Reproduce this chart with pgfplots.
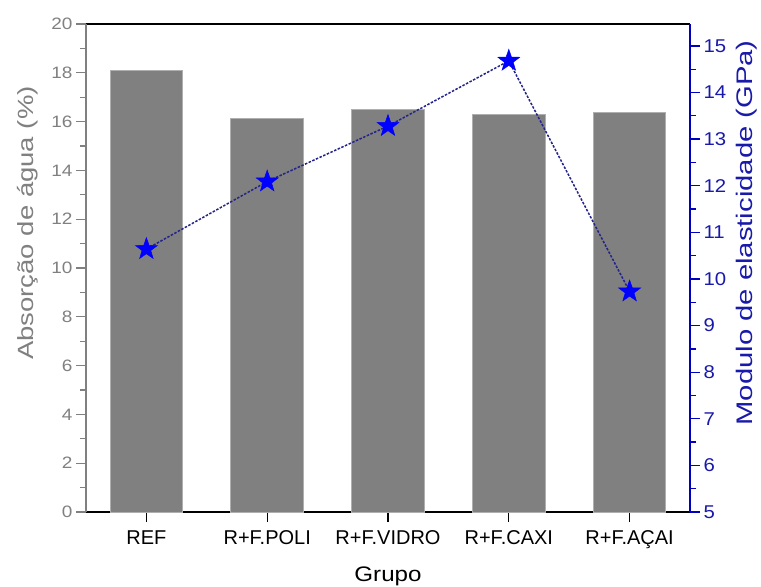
\documentclass[border=0pt]{standalone}
\usepackage{fontspec}
\setmainfont{Liberation Sans}
\newfontfamily\ylabfont[FakeStretch=1.25]{Liberation Sans}
\newfontfamily\rlabfont[FakeStretch=1.3]{Liberation Sans}
\newfontfamily\tickfont[FakeStretch=1.15]{Liberation Sans}
\newfontfamily\rtickfont[FakeStretch=1.1]{Liberation Sans}
\newfontfamily\grupofont[FakeStretch=1.15]{Liberation Sans}
\usepackage{pgfplots}
\pgfplotsset{compat=1.18}
\definecolor{barg}{RGB}{128,128,128}
\definecolor{baredge}{RGB}{175,175,175}
\definecolor{lgray}{RGB}{128,128,128}
\definecolor{rblue}{RGB}{0,0,190}
\definecolor{rtext}{RGB}{25,25,170}
\definecolor{dashc}{RGB}{35,35,140}
\definecolor{starblue}{RGB}{0,0,255}
\pgfdeclareplotmark{fstar}{%
  \pgfpathmoveto{\pgfpointpolar{90}{\pgfplotmarksize}}%
  \pgfpathlineto{\pgfpointpolar{126}{0.40\pgfplotmarksize}}%
  \pgfpathlineto{\pgfpointpolar{162}{\pgfplotmarksize}}%
  \pgfpathlineto{\pgfpointpolar{198}{0.40\pgfplotmarksize}}%
  \pgfpathlineto{\pgfpointpolar{234}{\pgfplotmarksize}}%
  \pgfpathlineto{\pgfpointpolar{270}{0.40\pgfplotmarksize}}%
  \pgfpathlineto{\pgfpointpolar{306}{\pgfplotmarksize}}%
  \pgfpathlineto{\pgfpointpolar{342}{0.40\pgfplotmarksize}}%
  \pgfpathlineto{\pgfpointpolar{18}{\pgfplotmarksize}}%
  \pgfpathlineto{\pgfpointpolar{54}{0.40\pgfplotmarksize}}%
  \pgfpathclose
  \pgfusepathqfillstroke}
\begin{document}
\begin{tikzpicture}
\useasboundingbox (-86bp,-75bp) rectangle (675bp,512bp);
\begin{axis}[
  at={(0,0)}, anchor=south west,
  scale only axis, width=604bp, height=488bp,
  xmin=-0.5, xmax=4.5, ymin=0, ymax=20,
  axis x line*=box, axis y line*=left,
  xtick={0,1,2,3,4},
  xticklabels={REF, R+F.POLI, R+F.VIDRO, R+F.CAXI, R+F.AÇAI},
  xtick pos=lower,
  ytick={0,2,...,20}, minor y tick num=1,
  tick align=outside,
  major tick length=10bp, minor tick length=6bp,
  every outer x axis line/.append style={black, line width=1.5bp, -},
  every outer y axis line/.append style={lgray, line width=1.5bp, -},
  x tick style={black, line width=1.3bp},
  y tick style={lgray, line width=1.3bp},
  /pgf/number format/assume math mode=true,
  xticklabel style={font=\fontsize{20bp}{24bp}\selectfont, text=black, yshift=-5bp},
  yticklabel style={font=\tickfont\fontsize{16.5bp}{20bp}\selectfont, text=lgray},
  xlabel={Grupo},
  xlabel style={font=\grupofont\fontsize{21bp}{25bp}\selectfont, at={(axis description cs:0.5,-0.143)}, anchor=base},
  ylabel={Absorção de água (\%)},
  ylabel style={font=\ylabfont\fontsize{22bp}{26bp}\selectfont, text=lgray, at={(axis description cs:-0.096,0.592)}, anchor=center, rotate=0},
]
\addplot[ybar, bar width=0.6, fill=barg, draw=baredge, line width=1bp]
  coordinates {(0,18.11) (1,16.13) (2,16.48) (3,16.31) (4,16.37)};
\end{axis}
\begin{axis}[
  at={(0,0)}, anchor=south west,
  scale only axis, width=604bp, height=488bp,
  xmin=-0.5, xmax=4.5, ymin=5, ymax=15.47,
  axis x line=none, axis y line*=right,
  ytick={5,6,...,15}, minor y tick num=1,
  tick align=outside,
  major tick length=10bp, minor tick length=6bp,
  every outer y axis line/.append style={rblue, line width=1.5bp, -},
  y tick style={rblue, line width=1.3bp},
  /pgf/number format/assume math mode=true,
  yticklabel style={font=\rtickfont\fontsize{18.5bp}{22bp}\selectfont, text=rtext},
  ylabel={Modulo de elasticidade (GPa)},
  ylabel style={font=\rlabfont\fontsize{22.5bp}{26bp}\selectfont, text=rtext, at={(axis description cs:1.094,0.572)}, anchor=center, rotate=0},
]
\addplot[dashc, line width=1.5bp, dash pattern=on 2.5bp off 1.5bp,
  mark=fstar, mark size=11.5bp, mark options={solid, fill=starblue, draw=starblue, line width=0.5bp}]
  coordinates {(0,10.64) (1,12.09) (2,13.28) (3,14.68) (4,9.73)};
\end{axis}
\end{tikzpicture}
\end{document}
